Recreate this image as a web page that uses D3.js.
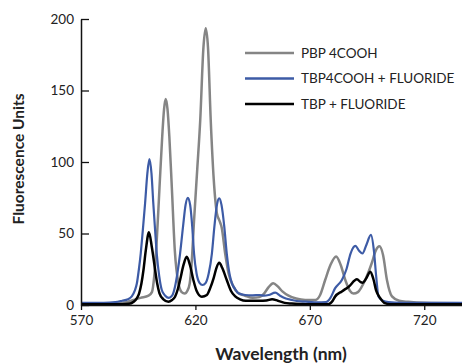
<!DOCTYPE html>
<html>
<head>
<meta charset="utf-8">
<script src="https://cdn.jsdelivr.net/npm/d3@7"></script>
<style>
  body { margin: 0; background: #fff; }
  text { font-family: Lato, "Open Sans", sans-serif; fill: #222; }
</style>
</head>
<body>
<div class="chart"></div>
<script>
// [wavelength nm, fluorescence units]
const pbp4cooh = [
  [570, 1], [580, 1], [585, 1.2], [590, 2], [593, 3.5], [596, 5], [599.5, 6.5],
  [601, 9], [602, 20], [603, 42], [604.3, 82], [605.5, 118], [606.3, 137], [607, 144],
  [607.8, 137], [608.6, 118], [609.7, 82], [611, 38], [612.6, 15], [614, 9], [615.3, 8],
  [616.5, 10], [617.5, 15], [618.3, 28], [619.4, 59], [620.8, 95], [622.1, 129],
  [623.5, 180], [624.5, 193.5], [625.5, 180], [626.7, 129], [628, 88], [629.4, 64],
  [630.5, 59], [631.5, 54], [633, 36], [634.5, 22], [636.6, 13], [638.5, 8.5],
  [641.7, 6.5], [645, 5], [648, 5.5], [650, 8], [652, 12.5], [654, 15.2], [656, 13],
  [658, 9.5], [660.7, 6.5], [664, 4.5], [668, 3.5], [672.4, 3.5], [674.5, 7],
  [676.7, 17.5], [679, 28], [681.5, 34], [683.5, 28], [685.5, 17.5], [687.5, 10],
  [689.1, 8], [691, 9], [694.2, 17.5], [697, 29], [698.8, 38], [700.4, 41], [702, 35],
  [703.7, 17.5], [705.9, 6], [709, 3], [713, 2.2], [720, 1.5], [737, 1.2]
];

const tbp4coohFluoride = [
  [570, 1.5], [580, 1.5], [585, 2], [588, 3], [590.5, 4], [592.2, 6], [593.5, 10],
  [594.4, 15], [595.3, 25], [596.1, 36], [597, 52], [598, 71], [599, 92], [599.9, 102],
  [600.8, 92], [601.6, 71], [602.4, 52], [603.1, 36], [604.2, 20], [605.3, 10.5],
  [606.8, 6.5], [608.4, 5], [609.8, 6.5], [611.1, 13], [612.2, 23], [613.3, 36],
  [614.6, 55], [615.7, 70], [616.7, 75], [617.7, 70], [618.6, 55], [619.4, 36],
  [620.5, 22], [621.8, 15.5], [623.1, 14], [624.5, 15.5], [625.8, 22], [627.2, 36],
  [628.3, 55], [629.4, 70], [630.4, 74.6], [631.4, 70], [632.6, 55], [633.7, 36],
  [635, 21], [636, 15], [637.4, 11], [639, 8], [641.7, 7], [645, 6.8], [648, 7],
  [650, 6.5], [652, 7], [654.9, 8.6], [657, 6.5], [659.5, 4.5], [662.2, 3.5],
  [666, 2.5], [669.4, 2.2], [673, 1.8], [677, 2], [679, 5], [681, 11.6], [684, 17.5],
  [686, 25], [687.8, 36], [689.9, 41.3], [691.5, 38], [693, 36], [694.7, 42],
  [696.7, 49], [698, 38], [699, 20], [700, 6], [702, 3], [704.3, 2], [710, 1.5], [737, 1.5]
];

const tbpFluoride = [
  [570, 0.5], [580, 0.5], [588, 0.6], [591, 0.8], [593, 2.3], [594.5, 5], [595.4, 8.2],
  [596.4, 15], [597.3, 24.5], [598.3, 38], [599.7, 50.8], [601, 40], [602.4, 24.5],
  [603.3, 15], [604.3, 8.2], [606, 4], [608.2, 2.3], [609.8, 3.5], [611.1, 5.8],
  [612.3, 11], [613.3, 17.5], [614.8, 28], [616.2, 33.8], [617.6, 28], [619.1, 17.5],
  [620.5, 10], [622.8, 5.8], [625, 7], [626.5, 12], [628, 19], [629.2, 26], [630.4, 29.5],
  [631.7, 26], [633.7, 17.5], [635.5, 10], [637.4, 6], [639.5, 4], [642, 3], [648, 3],
  [651, 3.2], [653.5, 4], [656, 3], [659, 1.5], [662, 1], [668, 0.5], [678, 0.5],
  [680, 3], [681, 5.8], [684, 9.5], [687, 12.8], [690.6, 18], [692.2, 16], [693, 15.6],
  [694.8, 19], [696.4, 23.3], [697.8, 18], [699, 10], [700.8, 4.7], [702.5, 1.5],
  [705, 0.6], [737, 0.5]
];

const seriesNames = ['PBP 4COOH', 'TBP4COOH + FLUORIDE', 'TBP + FLUORIDE'];
const seriesColors = ['#858585', '#3d5ba6', '#000000'];
const xTicks = [570, 620, 670, 720];
const yTicks = [0, 50, 100, 150, 200];

const width = 462, height = 364;
const margin = {top: 19, right: 0, bottom: 59, left: 81};

const svg = d3.select('.chart')
  .append('svg')
  .attr('width', width)
  .attr('height', height);

const xScale = d3.scaleLinear()
  .domain([570, 736.5])
  .range([margin.left, width - margin.right]);

const yScale = d3.scaleLinear()
  .domain([0, 200])
  .range([height - margin.bottom, margin.top]);

const line = d3.line()
  .x(d => xScale(d[0]))
  .y(d => yScale(d[1]))
  .curve(d3.curveMonotoneX);

const all = [pbp4cooh, tbp4coohFluoride, tbpFluoride];

// grey behind, then blue, black on top
svg.selectAll('.line')
  .data(all)
  .enter()
  .append('path')
  .attr('class', 'line')
  .attr('d', d => line(d))
  .style('stroke', (d, i) => seriesColors[i])
  .style('stroke-width', (d, i) => i === 1 ? 2.2 : 2.5)
  .style('fill', 'none');

const xAxis = svg.append('g')
  .attr('transform', `translate(0, ${yScale(0)})`)
  .call(d3.axisBottom(xScale).tickValues(xTicks).tickSizeInner(5).tickSizeOuter(0).tickPadding(5));

const yAxis = svg.append('g')
  .attr('transform', `translate(${margin.left}, 0)`)
  .call(d3.axisLeft(yScale).tickValues(yTicks).tickSizeInner(-8).tickSizeOuter(0).tickPadding(7));

[xAxis, yAxis].forEach(g => {
  g.select('.domain').attr('stroke', '#111').attr('stroke-width', 1.5);
  g.selectAll('.tick line').attr('stroke', '#111').attr('stroke-width', 1.3);
  g.selectAll('.tick text')
    .attr('font-family', 'Lato, "Open Sans", sans-serif')
    .attr('font-size', 13.5)
    .attr('fill', '#222');
});

svg.append('text')
  .attr('x', 281)
  .attr('y', 360)
  .attr('text-anchor', 'middle')
  .attr('font-size', 17.5)
  .attr('font-weight', 'bold')
  .text('Wavelength (nm)');

svg.append('text')
  .attr('transform', 'translate(24, 159) rotate(-90)')
  .attr('text-anchor', 'middle')
  .attr('font-size', 15.5)
  .attr('font-weight', 'bold')
  .text('Fluorescence Units');

const legend = svg.append('g')
  .selectAll('g')
  .data(seriesNames)
  .enter()
  .append('g')
  .attr('transform', (d, i) => `translate(245, ${53 + i * 25.5})`);

legend.append('line')
  .attr('x1', 0).attr('x2', 49)
  .attr('stroke', (d, i) => seriesColors[i])
  .attr('stroke-width', 2.5);

legend.append('text')
  .attr('x', 56)
  .attr('dy', '0.36em')
  .attr('font-size', 13.5)
  .attr('font-family', 'Lato, "Open Sans", sans-serif')
  .text(d => d);
</script>
</body>
</html>
